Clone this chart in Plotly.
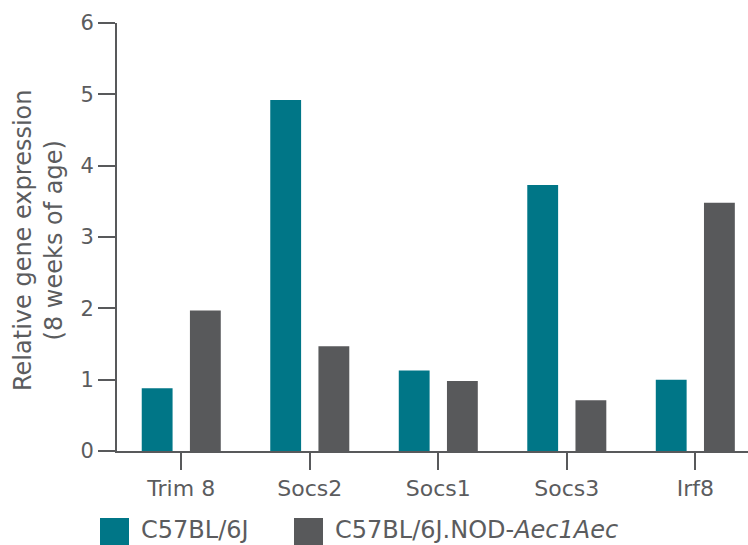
import plotly.graph_objects as go

categories = ["Trim 8", "Socs2", "Socs1", "Socs3", "Irf8"]
c57_values = [0.88, 4.92, 1.13, 3.73, 1.00]
nod_values = [1.97, 1.47, 0.98, 0.71, 3.48]
series_names = ["C57BL/6J", "C57BL/6J.NOD-<i>Aec1Aec</i>"]
y_ticks = [0, 1, 2, 3, 4, 5, 6]
y_title = "Relative gene expression<br>(8 weeks of age)"

TEAL = "#007687"
GRAY = "#58595b"
TXT = "#5b5c5e"
FONT = "DejaVu Sans"

fig = go.Figure()
fig.add_trace(go.Bar(x=categories, y=c57_values, name=series_names[0],
                     marker=dict(color=TEAL, line=dict(width=0)), showlegend=False))
fig.add_trace(go.Bar(x=categories, y=nod_values, name=series_names[1],
                     marker=dict(color=GRAY, line=dict(width=0)), showlegend=False))

W, H = 748, 545
L, R, T, B = 117, 0, 23, 94
pw, ph = W - L - R, H - T - B

def px_x(px):
    return (px - L) / pw

def px_y(py):
    return (H - B - py) / ph

fig.update_layout(
    width=W, height=H,
    margin=dict(l=L, r=R, t=T, b=B, autoexpand=False),
    paper_bgcolor="white", plot_bgcolor="white",
    barmode="group", bargap=0.25, bargroupgap=0.36,
    font=dict(family=FONT, color=TXT, size=20),
    xaxis=dict(type="category", range=[-0.5, 4.41], showgrid=False,
               showline=True, linecolor=GRAY, linewidth=2, automargin=False,
               ticks="outside", ticklen=17, tickwidth=2, tickcolor=GRAY,
               tickfont=dict(size=22, color=TXT, family=FONT), zeroline=False),
    yaxis=dict(range=[0, 6], tickvals=y_ticks, showgrid=False, zeroline=False,
               showline=True, linecolor=GRAY, linewidth=2, automargin=False,
               ticks="outside", ticklen=17, tickwidth=2, tickcolor=GRAY,
               tickfont=dict(size=21, color=TXT, family=FONT)),
)

# y-axis title placed as annotation
fig.add_annotation(xref="paper", yref="paper", x=px_x(38), y=px_y(241),
                   xanchor="center", yanchor="middle", showarrow=False,
                   textangle=-90, text=y_title,
                   font=dict(size=24, color=TXT, family=FONT))

# custom legend with large square swatches
legend_items = [
    (100, 129, 139, series_names[0], TEAL),
    (294, 323, 333, series_names[1], GRAY),
]
for x0, x1, tx, label, col in legend_items:
    fig.add_shape(type="rect", xref="paper", yref="paper",
                  x0=px_x(x0), x1=px_x(x1), y0=px_y(518), y1=px_y(547),
                  fillcolor=col, line=dict(width=0))
    fig.add_annotation(xref="paper", yref="paper", x=px_x(tx), y=px_y(530),
                       xanchor="left", yanchor="middle", showarrow=False,
                       text=label, font=dict(size=24, color=TXT, family=FONT))

fig.write_html("out.html", config={"displayModeBar": False},
               post_script="document.body.style.margin='0';document.body.style.overflow='hidden';")
